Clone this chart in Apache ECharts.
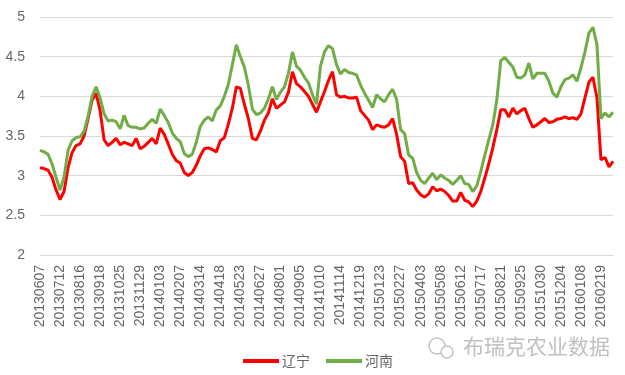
<!DOCTYPE html>
<html>
<head>
<meta charset="utf-8">
<script src="https://cdn.jsdelivr.net/npm/echarts@6/dist/echarts.min.js"></script>
<style>
html,body{margin:0;padding:0;background:#fff;}
#chart{width:625px;height:375px;}
</style>
</head>
<body>
<div id="chart"></div>
<script>
// Tick labels shown on the x axis (every 5th weekly observation)
const tickLabels = ['20130607','20130712','20130816','20130918','20131025','20131129','20140103','20140207','20140314','20140418','20140523','20140627','20140801','20140905','20141010','20141114','20141219','20150123','20150227','20150403','20150508','20150612','20150717','20150821','20150925','20151030','20151204','20160108','20160219'];

const seriesNames = ['辽宁', '河南'];

// 辽宁 (red)
const liaoning = [
  3.10,3.09,3.07,2.98,2.82,2.70,2.80,3.10,3.29,3.38,
  3.40,3.50,3.72,3.95,4.04,3.82,3.45,3.38,3.42,3.47,
  3.39,3.42,3.40,3.38,3.47,3.34,3.37,3.42,3.47,3.40,
  3.60,3.52,3.40,3.27,3.19,3.16,3.04,3.00,3.04,3.13,
  3.25,3.34,3.35,3.33,3.30,3.44,3.48,3.65,3.85,4.12,
  4.10,3.90,3.72,3.47,3.45,3.56,3.70,3.79,3.97,3.85,
  3.89,3.93,4.05,4.31,4.16,4.12,4.06,4.00,3.90,3.80,
  3.93,4.06,4.20,4.31,4.02,3.99,4.00,3.98,3.98,3.99,
  3.82,3.76,3.70,3.58,3.64,3.62,3.61,3.64,3.72,3.52,
  3.24,3.18,2.90,2.91,2.82,2.76,2.73,2.77,2.86,2.81,
  2.83,2.80,2.75,2.68,2.68,2.79,2.69,2.67,2.61,2.68,
  2.80,2.97,3.15,3.35,3.58,3.83,3.83,3.74,3.85,3.78,
  3.82,3.85,3.72,3.61,3.64,3.68,3.72,3.67,3.68,3.71,
  3.72,3.74,3.72,3.73,3.71,3.78,3.98,4.18,4.24,3.98,
  3.20,3.23,3.11,3.18
];

// 河南 (green)
const henan = [
  3.32,3.30,3.27,3.15,2.98,2.82,2.98,3.32,3.44,3.48,
  3.49,3.56,3.75,4.00,4.12,3.98,3.78,3.69,3.70,3.68,
  3.59,3.76,3.63,3.61,3.61,3.59,3.60,3.66,3.71,3.66,
  3.84,3.76,3.67,3.54,3.47,3.43,3.28,3.24,3.27,3.42,
  3.62,3.70,3.74,3.69,3.83,3.88,4.00,4.15,4.40,4.65,
  4.50,4.37,4.14,3.84,3.77,3.79,3.85,3.97,4.12,3.96,
  4.05,4.12,4.29,4.56,4.38,4.33,4.24,4.17,4.02,3.90,
  4.38,4.56,4.64,4.60,4.40,4.28,4.34,4.30,4.29,4.27,
  4.14,4.04,3.95,3.86,4.02,3.97,3.93,4.02,4.09,3.96,
  3.58,3.53,3.26,3.22,3.04,2.94,2.90,2.97,3.03,2.95,
  3.01,2.97,2.94,2.89,2.94,3.00,2.90,2.89,2.80,2.87,
  3.05,3.26,3.45,3.64,3.95,4.45,4.49,4.43,4.37,4.24,
  4.23,4.27,4.42,4.22,4.29,4.29,4.29,4.19,4.04,3.99,
  4.12,4.21,4.23,4.27,4.19,4.36,4.56,4.80,4.87,4.65,
  3.72,3.79,3.74,3.80
];

// weekly categories; only every 5th carries a printed tick label
const categories = liaoning.map((_, i) =>
  i % 5 === 0 ? tickLabels[i / 5] : tickLabels[Math.floor(i / 5)] + '+' + (i % 5) + 'w');

const chart = echarts.init(document.getElementById('chart'), null, {renderer: 'canvas'});
const font = 'Liberation Sans, Arial, sans-serif';
chart.setOption({
  animation: false,
  backgroundColor: '#ffffff',
  grid: {left: 40, right: 12, top: 17, bottom: 120},
  legend: {
    data: seriesNames,
    left: 238,
    top: 349,
    icon: 'rect',
    itemWidth: 36,
    itemHeight: 4,
    itemGap: 16,
    textStyle: {color: '#666666', fontSize: 14, fontFamily: 'Noto Sans CJK SC', padding: [0,0,0,-2]}
  },
  xAxis: {
    type: 'category',
    data: categories,
    boundaryGap: false,
    axisLine: {show: true, lineStyle: {color: '#d9d9d9', width: 1}},
    axisTick: {show: false},
    axisLabel: {
      interval: 4,
      rotate: 90,
      margin: 10,
      color: '#666666',
      fontSize: 14,
      fontFamily: font,
      formatter: (v, i) => (i % 5 === 0 ? tickLabels[i / 5] : '')
    },
    splitLine: {show: false}
  },
  yAxis: {
    type: 'value',
    min: 2,
    max: 5,
    interval: 0.5,
    axisLine: {show: false},
    axisTick: {show: false},
    axisLabel: {color: '#666666', fontSize: 14, fontFamily: font, margin: 15},
    splitLine: {lineStyle: {color: '#d9d9d9', width: 1}}
  },
  series: [
    {name: seriesNames[0], type: 'line', data: liaoning, showSymbol: false, symbol: 'none',
     lineStyle: {color: '#ff0000', width: 3}, itemStyle: {color: '#ff0000'}},
    {name: seriesNames[1], type: 'line', data: henan, showSymbol: false, symbol: 'none',
     lineStyle: {color: '#70ad47', width: 3}, itemStyle: {color: '#70ad47'}}
  ],
  graphic: [
    {type: 'circle', shape: {cx: 437, cy: 346, r: 8}, style: {fill: 'none', stroke: '#c4c4c4', lineWidth: 1.5}},
    {type: 'circle', shape: {cx: 447, cy: 352, r: 6}, style: {fill: '#fff', stroke: '#c4c4c4', lineWidth: 1.5}},
    {type: 'text', left: 463, top: 336,
     style: {text: '布瑞克农业数据', fill: '#c0c0c0', fontSize: 21, fontFamily: 'Noto Sans CJK SC'}}
  ]
});
</script>
</body>
</html>
